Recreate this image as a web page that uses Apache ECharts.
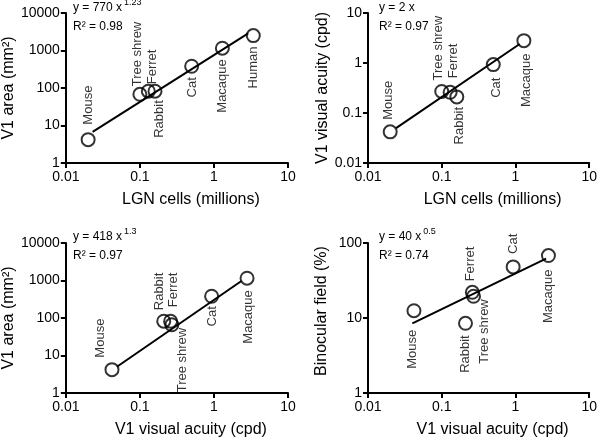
<!DOCTYPE html>
<html><head><meta charset="utf-8">
<script src="https://cdn.jsdelivr.net/npm/echarts@6/dist/echarts.min.js"></script>
<style>html,body{margin:0;padding:0;background:#fff}#c{width:600px;height:443px}</style>
</head><body><div id="c"></div>
<script>
// ---- data ----
const species1 = ['Mouse', 'Tree shrew', 'Ferret', 'Rabbit', 'Cat', 'Macaque', 'Human'];
const lgnCells1 = [0.02, 0.1, 0.13, 0.16, 0.5, 1.3, 3.4];
const v1Area1 = [4.2, 68, 82, 82, 380, 1150, 2500];

const species = ['Mouse', 'Tree shrew', 'Ferret', 'Rabbit', 'Cat', 'Macaque'];
const lgnCells = [0.02, 0.1, 0.13, 0.16, 0.5, 1.3];
const acuity = [0.042, 0.27, 0.26, 0.21, 0.93, 2.8];
const v1Area = [4.2, 66, 82, 82, 380, 1150];
const binocular = [12.5, 19.5, 22, 8.5, 48, 68];

// fit line end points
const fit1X = [0.023, 2.9],  fit1Y = [6.8, 2850];
const fit2X = [0.024, 1.14], fit2Y = [0.05, 2.4];
const fit3X = [0.049, 2.35], fit3Y = [5.0, 970];
const fit4X = [0.04, 2.6],   fit4Y = [8.5, 62];

const eq1 = ['y = 770 x', '1.23', 'R² = 0.98'];
const eq2 = ['y = 2 x', '', 'R² = 0.97'];
const eq3 = ['y = 418 x', '1.3', 'R² = 0.97'];
const eq4 = ['y = 40 x', '0.5', 'R² = 0.74'];

// ---- layout (label placement: side, dx, gap) ----
const lab1 = [['t',0,15],['t',-2,8],['t',4,7],['b',4,9],['b',1,11],['b',0,11],['b',0,11]];
const lab2 = [['t',-2,12],['t',-3,11],['t',3,14],['b',3,10],['b',3,13],['b',3,13]];
const lab3 = [['t',-12,12],['b',11,3],['t',3,14],['t',-4,11],['b',1,10],['b',1,12]];
const lab4 = [['b',-2,19],['b',11,3],['t',-2,11],['b',0,12],['t',0,13],['b',0,14]];

const FONT = 'Liberation Sans, Arial, sans-serif';
const grids = [
  {left: 63, top: 13, width: 225, height: 150},
  {left: 368, top: 13, width: 224, height: 150},
  {left: 63, top: 243, width: 225, height: 150},
  {left: 368, top: 243, width: 224, height: 150}
];

function fmt(v) { return String(+Number(v).toPrecision(3)); }

function xAx(i, name) {
  return {
    type: 'log', logBase: 10, gridIndex: i, min: 0.01, max: 10,
    name: name, nameLocation: 'middle', nameGap: 29,
    nameTextStyle: {fontSize: 16, color: '#000', fontFamily: FONT, padding: [0, 0, 0, 28]},
    axisLine: {onZero: false, lineStyle: {color: '#000', width: 2}},
    axisTick: {show: true, length: 5, lineStyle: {color: '#000', width: 2}},
    axisLabel: {fontSize: 14, color: '#000', margin: 7, fontFamily: FONT, formatter: fmt},
    splitLine: {show: false}, minorTick: {show: false}
  };
}
function yAx(i, name, min, max, gap, shift) {
  return {
    type: 'log', logBase: 10, gridIndex: i, min: min, max: max,
    name: name, nameLocation: 'middle', nameGap: gap,
    nameTextStyle: {fontSize: 16, color: '#000', fontFamily: FONT, padding: [0, 0, 0, shift]},
    axisLine: {onZero: false, lineStyle: {color: '#000', width: 2}},
    axisTick: {show: true, length: 5, lineStyle: {color: '#000', width: 2}},
    axisLabel: {fontSize: 14, color: '#000', margin: 6, fontFamily: FONT, formatter: fmt},
    splitLine: {show: false}, minorTick: {show: false}
  };
}

function scatter(i, names, xs, ys, lab) {
  return {
    type: 'scatter', xAxisIndex: i, yAxisIndex: i, z: 3,
    symbol: 'circle', symbolSize: 13,
    itemStyle: {color: 'rgba(0,0,0,0)', borderColor: '#000', borderWidth: 2},
    data: names.map((n, k) => {
      const [side, dx, gap] = lab[k];
      const top = side === 't';
      return {
        name: n, value: [xs[k], ys[k]],
        label: {
          show: true, formatter: n, rotate: 90, position: 'inside',
          align: top ? 'left' : 'right', verticalAlign: 'middle',
          offset: [top ? gap : -gap, dx],
          fontSize: 13, color: '#000', fontFamily: FONT
        }
      };
    })
  };
}
function fitLine(i, xs, ys) {
  return {
    type: 'line', xAxisIndex: i, yAxisIndex: i, z: 2, showSymbol: false, silent: true,
    lineStyle: {color: '#000', width: 2},
    data: xs.map((x, k) => [x, ys[k]])
  };
}
function eqTitle(left, top, eq) {
  const first = eq[1] ? '{a|' + eq[0] + '}{s|' + eq[1] + '}' : '{a|' + eq[0] + '}';
  return {
    left: left, top: top, padding: 0,
    text: first + '\n{a|' + eq[2] + '}',
    textStyle: {
      fontWeight: 'normal',
      rich: {
        a: {fontSize: 12, fontWeight: 'normal', color: '#000', fontFamily: FONT, lineHeight: 19},
        s: {fontSize: 9, fontWeight: 'normal', color: '#000', fontFamily: FONT, lineHeight: 19, verticalAlign: 'top', padding: [0, 0, 0, 2]}
      }
    }
  };
}

const chart = echarts.init(document.getElementById('c'));
chart.setOption({
  animation: false,
  backgroundColor: '#fff',
  title: [eqTitle(73, -2, eq1), eqTitle(379, -2, eq2), eqTitle(73, 227, eq3), eqTitle(379, 227, eq4)],
  grid: grids,
  xAxis: [xAx(0, 'LGN cells (millions)'), xAx(1, 'LGN cells (millions)'),
          xAx(2, 'V1 visual acuity (cpd)'), xAx(3, 'V1 visual acuity (cpd)')],
  yAxis: [yAx(0, 'V1 area (mm²)', 1, 10000, 44, 0), yAx(1, 'V1 visual acuity (cpd)', 0.01, 10, 37, 0),
          yAx(2, 'V1 area (mm²)', 1, 10000, 44, 0), yAx(3, 'Binocular field (%)', 1, 100, 38, 14)],
  series: [
    fitLine(0, fit1X, fit1Y), scatter(0, species1, lgnCells1, v1Area1, lab1),
    fitLine(1, fit2X, fit2Y), scatter(1, species, lgnCells, acuity, lab2),
    fitLine(2, fit3X, fit3Y), scatter(2, species, acuity, v1Area, lab3),
    fitLine(3, fit4X, fit4Y), scatter(3, species, acuity, binocular, lab4)
  ]
});
</script></body></html>
